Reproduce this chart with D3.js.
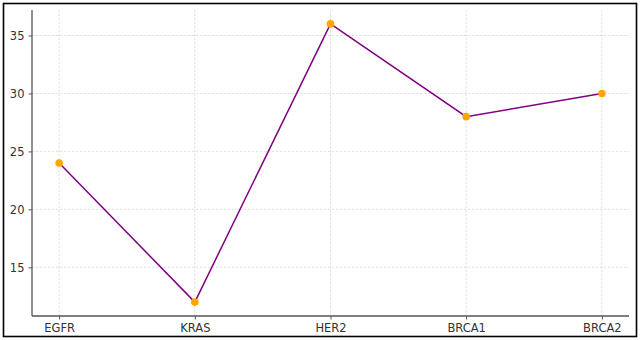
<!DOCTYPE html>
<html>
<head>
<meta charset="utf-8">
<script src="https://cdn.jsdelivr.net/npm/d3@7"></script>
<style>
  html, body { margin: 0; padding: 0; background: #fff; }
  svg { display: block; }
  text { font-family: "DejaVu Sans", sans-serif; }
</style>
</head>
<body>
<svg id="chart" width="640" height="340"></svg>
<script>
// Gene names along the x axis and their values
const genes = ["EGFR", "KRAS", "HER2", "BRCA1", "BRCA2"];
const values = [24, 12, 36, 28, 30];
const yTicks = [15, 20, 25, 30, 35];

const W = 640, H = 340;
const plot = { left: 32, right: 629, top: 10, bottom: 316 };

const svg = d3.select("#chart");

// outer frame
svg.append("rect")
  .attr("x", 3.5).attr("y", 3.5)
  .attr("width", 633).attr("height", 333)
  .attr("fill", "#fff").attr("stroke", "#000").attr("stroke-width", 1.6);

const x = d3.scalePoint().domain(genes)
  .range([plot.left, plot.right]).padding(0.2);
const yMin = d3.min(values), yMax = d3.max(values);
const pad = (yMax - yMin) * 0.05;
const y = d3.scaleLinear().domain([yMin - pad, yMax + pad])
  .range([plot.bottom, plot.top]);

// grid
const grid = svg.append("g");
grid.selectAll(".gy").data(yTicks).join("line")
  .attr("x1", plot.left).attr("x2", plot.right)
  .attr("y1", d => y(d)).attr("y2", d => y(d))
  .attr("stroke", "#d9d9d9").attr("stroke-width", 0.8)
  .attr("stroke-dasharray", "2.5,1.5");
grid.selectAll(".gx").data(genes).join("line")
  .attr("x1", d => x(d)).attr("x2", d => x(d))
  .attr("y1", plot.top).attr("y2", plot.bottom)
  .attr("stroke", "#d9d9d9").attr("stroke-width", 0.8)
  .attr("stroke-dasharray", "2.5,1.5");

// axes
const xAxis = svg.append("g")
  .attr("transform", `translate(0,${plot.bottom})`)
  .call(d3.axisBottom(x).tickSize(3.5).tickPadding(4));
const yAxis = svg.append("g")
  .attr("transform", `translate(${plot.left},0)`)
  .call(d3.axisLeft(y).tickValues(yTicks).tickSize(3.5).tickPadding(4));

[xAxis, yAxis].forEach(g => {
  g.select(".domain").attr("stroke", "#555").attr("stroke-width", 1.3);
  g.selectAll(".tick line").attr("stroke", "#555").attr("stroke-width", 1);
  g.selectAll(".tick text").attr("fill", "#333")
    .style("font-family", "DejaVu Sans, sans-serif").style("font-size", "11.5px");
});
// extend the axis lines to the full plot box
xAxis.select(".domain").attr("d", `M${plot.left},0H${plot.right}`);
yAxis.select(".domain").attr("d", `M0,${plot.bottom}V${plot.top}`);

// series line
const line = d3.line().x((d, i) => x(genes[i])).y(d => y(d));
svg.append("path").datum(values)
  .attr("d", line).attr("fill", "none")
  .attr("stroke", "#800080").attr("stroke-width", 1.5);

// markers
svg.selectAll(".pt").data(values).join("circle")
  .attr("cx", (d, i) => x(genes[i])).attr("cy", d => y(d))
  .attr("r", 3.8).attr("fill", "#FFA500");
</script>
</body>
</html>
